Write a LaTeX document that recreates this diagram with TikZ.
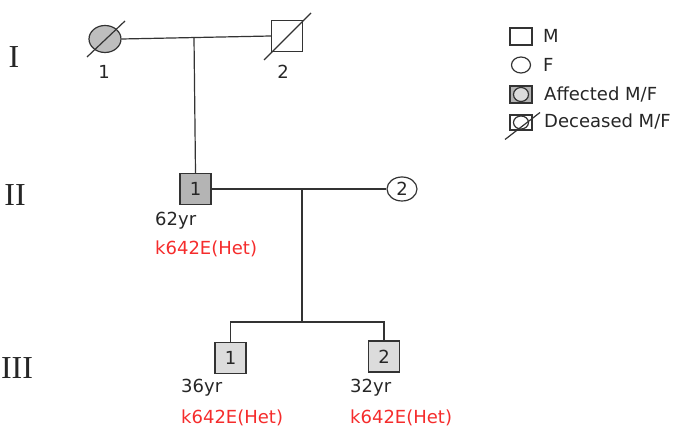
\documentclass[tikz,border=0pt]{standalone}
\usepackage{fontspec}
\setmainfont{DejaVu Sans}
\newfontfamily\romanf{Liberation Serif}
\usetikzlibrary{shapes.geometric,calc}
\definecolor{ln}{HTML}{333333}
\definecolor{affI}{HTML}{BEBEBE}
\definecolor{affII}{HTML}{B4B4B4}
\definecolor{affIII}{HTML}{DCDCDC}
\definecolor{mut}{HTML}{F52C2C}
\tikzset{
  male/.style={draw=ln, rectangle, line width=1.2pt, inner sep=0pt, minimum width=#1, minimum height=#1},
  fem/.style={draw=ln, ellipse, line width=1.2pt, inner sep=0pt},
  conn/.style={draw=ln, line width=1.2pt},
  txt/.style={font=\fontsize{18}{20}\selectfont, inner sep=0pt, text=black!85},
  lbl/.style={txt, anchor=west},
  red/.style={txt, anchor=west, text=mut},
  gen/.style={font=\romanf\fontsize{32}{34}\selectfont, inner sep=0pt, text=black!85}
}
\begin{document}
\begin{tikzpicture}[x=1pt,y=-1pt]
\useasboundingbox (0,0) rectangle (686,438);
% generation labels
\node[gen] (gI) at (14,57) {I};
\node[gen] (gII) at (15,195) {II};
\node[gen] (gIII) at (17,368) {III};
% Generation I
\node[fem, fill=affI, minimum width=32pt, minimum height=27pt] (i1) at (105,39) {};
\draw[conn] ($(i1)+(-18,18)$) -- ($(i1)+(20,-18)$);
\node[txt] (i1l) at (104,72) {1};
\node[male=31pt] (i2) at (287,36) {};
\draw[conn] ($(i2)+(-23,24)$) -- ($(i2)+(24,-23)$);
\node[txt] (i2l) at (283,72) {2};
\draw[conn] (i1.east) -- (i2.west);
\coordinate (m1) at (194,37.5);
% Generation II
\node[male=31pt, fill=affII, txt] (ii1) at (195.5,189) {1};
\node[fem, minimum width=30pt, minimum height=24pt, txt] (ii2) at (402,189) {2};
\draw[conn] (m1) -- (ii1.north);
\draw[conn] (ii1.east) -- (ii2.west);
\coordinate (m2) at (302,189);
\coordinate (s) at (302,322);
\draw[conn] (m2) -- (s);
\node[lbl] (a2) at (155,221) {62yr};
\node[red] (k2) at (155,249) {k642E(Het)};
% Generation III
\node[male=31pt, fill=affIII, txt] (iii1) at (230.5,358) {1};
\node[male=31pt, fill=affIII, txt] (iii2) at (384,356.5) {2};
\draw[conn] (iii1.north) |- (s) -| (iii2.north);
\node[lbl] (a3) at (181,388) {36yr};
\node[red] (k3) at (181,418) {k642E(Het)};
\node[lbl] (a4) at (350,388) {32yr};
\node[red] (k4) at (350,418) {k642E(Het)};
% Legend
\node[male=0pt, minimum width=22pt, minimum height=17pt] (lm) at (521,36.5) {};
\node[lbl] (lmt) at (543,36) {M};
\node[fem, minimum width=19pt, minimum height=16pt] (lf) at (521,65) {};
\node[lbl] (lft) at (543,65) {F};
\node[male=0pt, minimum width=22pt, minimum height=17pt, fill=affII] (la) at (521,94.5) {};
\node[fem, minimum width=15pt, minimum height=14pt, fill=affIII] (lac) at (521,94.5) {};
\node[lbl] (lat) at (544,95) {Affected M/F};
\node[male=0pt, minimum width=22pt, minimum height=15pt] (ld) at (521,122.5) {};
\node[fem, minimum width=15pt, minimum height=13pt] (ldc) at (521,122.5) {};
\draw[conn] ($(ld)+(-16,17)$) -- ($(ld)+(19,-10)$);
\node[lbl] (ldt) at (544,122) {Deceased M/F};
\end{tikzpicture}
\end{document}
